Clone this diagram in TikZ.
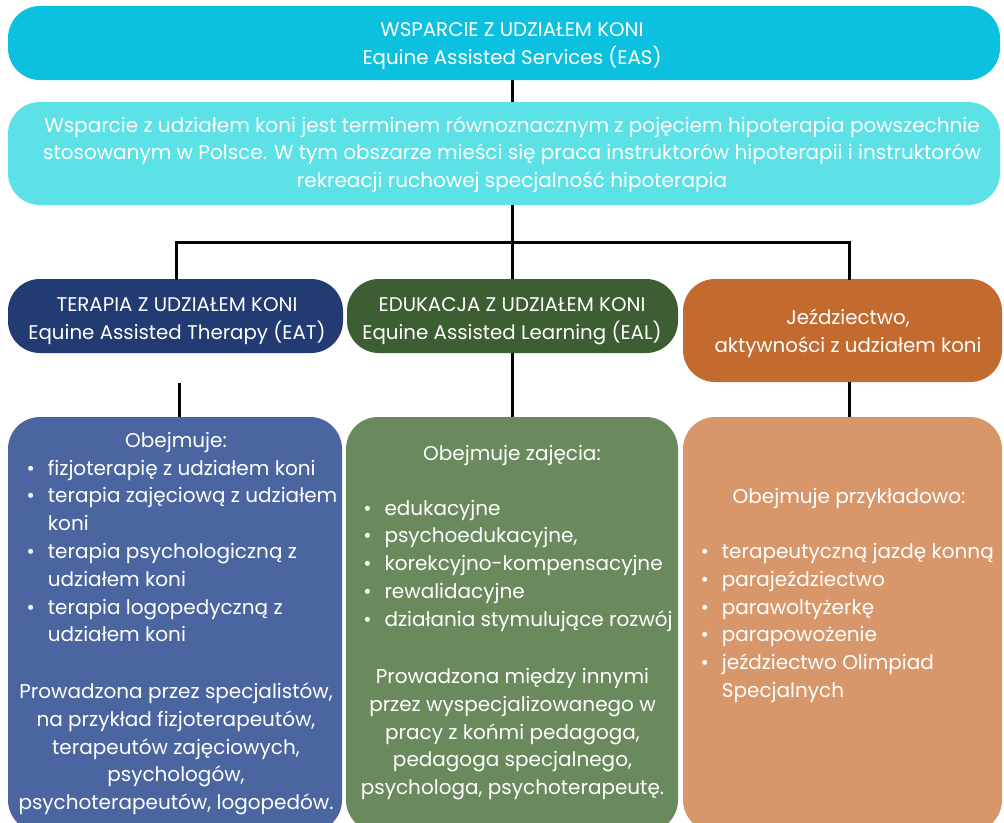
\documentclass[tikz,border=0pt]{standalone}
\usepackage{fontspec}
\setmainfont{Poppins}
\definecolor{topc}{HTML}{0CC1DF}
\definecolor{secc}{HTML}{5CE1E6}
\definecolor{bluedark}{HTML}{223B73}
\definecolor{greendark}{HTML}{3D5E32}
\definecolor{orangedark}{HTML}{C36B2F}
\definecolor{bluelight}{HTML}{4B65A0}
\definecolor{greenlight}{HTML}{6A8A5E}
\definecolor{orangelight}{HTML}{D8976A}
\newcommand\itm{\llap{\textbullet\hspace{13pt}}}
\begin{document}
\begin{tikzpicture}[x=1pt,y=-1pt,
  box/.style={rectangle, rounded corners=32pt, inner sep=0pt, draw=none},
  tx/.style={inner sep=0pt, text=white, anchor=north, align=center},
  txl/.style={inner sep=0pt, text=white, anchor=north west, align=left},
  hd/.style={font=\fontsize{19.8}{27.3}\selectfont},
  bd/.style={font=\fontsize{20}{27.8}\selectfont},
  conn/.style={line width=3pt, black}]
\useasboundingbox (0,0) rectangle (1004,822);
% boxes
\node[box, fill=topc, minimum width=992pt, minimum height=74pt] (top) at (504,43) {};
\node[box, fill=secc, minimum width=992pt, minimum height=103pt] (sec) at (504,153.5) {};
\node[box, fill=bluedark, minimum width=335pt, minimum height=74pt] (bt) at (175.5,316) {};
\node[box, fill=greendark, minimum width=331pt, minimum height=74pt] (gt) at (512.5,316) {};
\node[box, fill=orangedark, minimum width=319pt, minimum height=103pt] (ot) at (842.5,330.5) {};
\node[box, fill=bluelight, minimum width=334pt, minimum height=415pt] (bb) at (175,624.5) {};
\node[box, fill=greenlight, minimum width=332pt, minimum height=415pt] (gb) at (512,624.5) {};
\node[box, fill=orangelight, minimum width=319pt, minimum height=415pt] (ob) at (842.5,624.5) {};
% texts
\node[tx, hd] (toptx) at (512,17.6) {\strut WSPARCIE Z UDZIAŁEM KONI\\Equine Assisted Services (EAS)};
\node[tx, font=\fontsize{20}{27.7}\selectfont] (sectx) at (512,112.6) {\strut Wsparcie z udziałem koni jest terminem równoznacznym z pojęciem hipoterapia powszechnie\\stosowanym w Polsce. W tym obszarze mieści się praca instruktorów hipoterapii i instruktorów\\rekreacji ruchowej specjalność hipoterapia};
\node[tx, hd] (bttx) at (177,292.6) {\strut TERAPIA Z UDZIAŁEM KONI\\Equine Assisted Therapy (EAT)};
\node[tx, hd] (gttx) at (512,292.6) {\strut EDUKACJA Z UDZIAŁEM KONI\\Equine Assisted Learning (EAL)};
\node[tx, hd] (ottx) at (848,305.4) {\strut Jeździectwo,\\aktywności z udziałem koni};
% blue bottom
\node[tx, bd] (bbh) at (176,427.5) {\strut Obejmuje:};
\node[txl, bd] (bbl) at (47.7,455.5) {\strut\itm fizjoterapię z udziałem koni\\
\itm terapia zajęciową z udziałem\\koni\\
\itm terapia psychologiczną z\\udziałem koni\\
\itm terapia logopedyczną z\\udziałem koni};
\node[tx, bd] (bbp) at (176,678.8) {\strut Prowadzona przez specjalistów,\\na przykład fizjoterapeutów,\\terapeutów zajęciowych,\\psychologów,\\psychoterapeutów, logopedów.};
% green bottom
\node[tx, bd] (gbh) at (512,440.5) {\strut Obejmuje zajęcia:};
\node[txl, bd] (gbl) at (384.3,495.5) {\strut\itm edukacyjne\\
\itm psychoedukacyjne,\\
\itm korekcyjno-kompensacyjne\\
\itm rewalidacyjne\\
\itm działania stymulujące rozwój};
\node[tx, bd] (gbp) at (512.5,663.8) {\strut Prowadzona między innymi\\przez wyspecjalizowanego w\\pracy z końmi pedagoga,\\pedagoga specjalnego,\\psychologa, psychoterapeutę.};
% orange bottom
\node[tx, bd] (obh) at (849,483.8) {\strut Obejmuje przykładowo:};
\node[txl, bd] (obl) at (721.7,538.8) {\strut\itm terapeutyczną jazdę konną\\
\itm parajeździectwo\\
\itm parawoltyżerkę\\
\itm parapowożenie\\
\itm jeździectwo Olimpiad\\Specjalnych};
% connectors
\coordinate (J) at (512,242);
\coordinate (JL) at (176,242);
\coordinate (JR) at (849,242);
\coordinate (BC) at (179,383);
\coordinate (OC) at (849,382);
\draw[conn] (top.south -| J) -- (sec.north -| J);
\draw[conn] (sec.south -| J) -- (J);
\draw[conn] (JL) -- (JR);
\draw[conn, line cap=rect] (JL) -- (JL |- bt.north);
\draw[conn, line cap=rect] (JR) -- (JR |- ot.north);
\draw[conn] (J) -- (J |- gt.north);
\draw[conn] (BC) -- (BC |- bb.north);
\draw[conn] (gt.south -| J) -- (gb.north -| J);
\draw[conn] (OC) -- (OC |- ob.north);
\end{tikzpicture}
\end{document}
